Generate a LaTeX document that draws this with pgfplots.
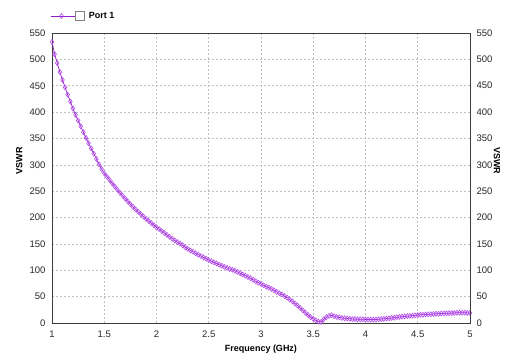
\documentclass[border=0pt]{standalone}
\usepackage{pgfplots}
\pgfplotsset{compat=1.18}
\usepackage{pgfplotstable}
\usepackage{fontspec}
\setmainfont{Liberation Sans}
\definecolor{vline}{RGB}{145,30,200}
\definecolor{vmark}{RGB}{180,75,235}
\definecolor{gridc}{RGB}{190,190,190}
\definecolor{axc}{RGB}{60,60,60}
\definecolor{txt}{RGB}{40,40,40}

\pgfplotstableread{
f v
1.000 533
1.025 510
1.050 493
1.075 476
1.100 461
1.125 447
1.150 433
1.175 420
1.200 407
1.225 395
1.250 384
1.275 373
1.300 362
1.325 351
1.350 341
1.375 331
1.400 321
1.425 311
1.450 301
1.475 292
1.500 284
1.525 278
1.550 271.5
1.575 265
1.600 259
1.625 253
1.650 247
1.675 241.5
1.700 236
1.725 230.5
1.750 225.5
1.775 220.5
1.800 215.5
1.825 211
1.850 206.5
1.875 202
1.900 197.5
1.925 193.5
1.950 189.5
1.975 185.5
2.000 181.5
2.025 178
2.050 174.5
2.075 171
2.100 167
2.125 163.5
2.150 160
2.175 156.5
2.200 153.5
2.225 150.5
2.250 147.5
2.275 143.5
2.300 140.5
2.325 137.5
2.350 135
2.375 132
2.400 129.5
2.425 127
2.450 124.5
2.475 122
2.500 119.5
2.525 117
2.550 115
2.575 113
2.600 110.5
2.625 108.5
2.650 106.5
2.675 104.5
2.700 102.5
2.725 101
2.750 99
2.775 96.8
2.800 94.5
2.825 92
2.850 89.7
2.875 87.3
2.900 85
2.925 82
2.950 79
2.975 76.5
3.000 74
3.025 71.5
3.050 69
3.075 67
3.100 64.5
3.125 62
3.150 59
3.175 56.5
3.200 54
3.225 51
3.250 48
3.275 44.5
3.300 41
3.325 37
3.350 33
3.375 28.5
3.400 24
3.425 19.5
3.450 15
3.475 11
3.500 8
3.525 5
3.550 2.5
3.575 2
3.600 7
3.625 11
3.650 13.5
3.675 14.5
3.700 13
3.725 11.5
3.750 10.5
3.775 9.5
3.800 9
3.825 8.5
3.850 8
3.875 7.5
3.900 7.5
3.925 7
3.950 7
3.975 7
4.000 6.5
4.025 6.5
4.050 6.5
4.075 6.5
4.100 6.5
4.125 7
4.150 7.5
4.175 8
4.200 8.5
4.225 9
4.250 9.5
4.275 10
4.300 11
4.325 11.5
4.350 12
4.375 12.5
4.400 13
4.425 13.5
4.450 14
4.475 14.5
4.500 15
4.525 15.5
4.550 15.5
4.575 16
4.600 16.5
4.625 16.5
4.650 17
4.675 17.5
4.700 17.5
4.725 18
4.750 18
4.775 18.5
4.800 18.5
4.825 19
4.850 19
4.875 19.5
4.900 19.5
4.925 19.5
4.950 19.5
4.975 19
5.000 19
}\vswr

\pgfplotsset{
  common/.style={
    at={(52bp,32bp)}, anchor=south west,
    scale only axis, width=418bp, height=290bp,
    xmin=1, xmax=5, ymin=0, ymax=550,
    xtick={1,1.5,...,5}, ytick={0,50,...,550},
    major tick length=0pt,
    axis line style={axc, line width=0.8bp},
    tick label style={font=\fontsize{9.5bp}{11bp}\selectfont, text=txt},
    /pgf/number format/assume math mode=true,
  }
}

\begin{document}
\begin{tikzpicture}
\useasboundingbox (0,0) rectangle (506bp,355bp);
\begin{axis}[common,
  grid=major,
  major grid style={gridc, dash pattern=on 2bp off 2bp, line width=0.6bp},
  xticklabel style={yshift=-4bp},
  yticklabel style={xshift=-3bp},
  xlabel={Frequency (GHz)},
  ylabel={VSWR},
  every axis x label/.style={at={(axis description cs:0.5,-0.0897)}, anchor=center,
    font=\bfseries\fontsize{9bp}{11bp}\selectfont},
  every axis y label/.style={at={(axis description cs:-0.0785,0.559)}, anchor=center, rotate=90,
    font=\bfseries\fontsize{9bp}{11bp}\selectfont},
  legend style={at={(axis description cs:0,1)}, anchor=south west, draw=none, fill=none,
    yshift=9bp, xshift=-5bp, font=\bfseries\fontsize{9bp}{11bp}\selectfont},
  legend image code/.code={
    \draw[mark repeat=2,mark phase=2,#1] plot coordinates {(0bp,0bp) (11bp,0bp) (24bp,0bp)};
    \draw[gray, line width=0.6bp, fill=white] (25bp,-4.5bp) rectangle (34bp,4.5bp);
  },
]
\addplot[vline, line width=0.7bp, mark=diamond, mark size=2.5bp,
  mark options={draw=vmark, line width=0.6bp, solid}] table[x=f,y=v] {\vswr};
\addlegendentry{\hspace{2bp}Port 1}
\end{axis}
\begin{axis}[common,
  hide x axis,
  axis y line*=right,
  yticklabel style={xshift=3bp},
  ylabel={VSWR},
  every axis y label/.style={at={(axis description cs:1.0646,0.559)}, anchor=center, rotate=-90,
    font=\bfseries\fontsize{9bp}{11bp}\selectfont},
]
\end{axis}
\end{tikzpicture}
\end{document}
